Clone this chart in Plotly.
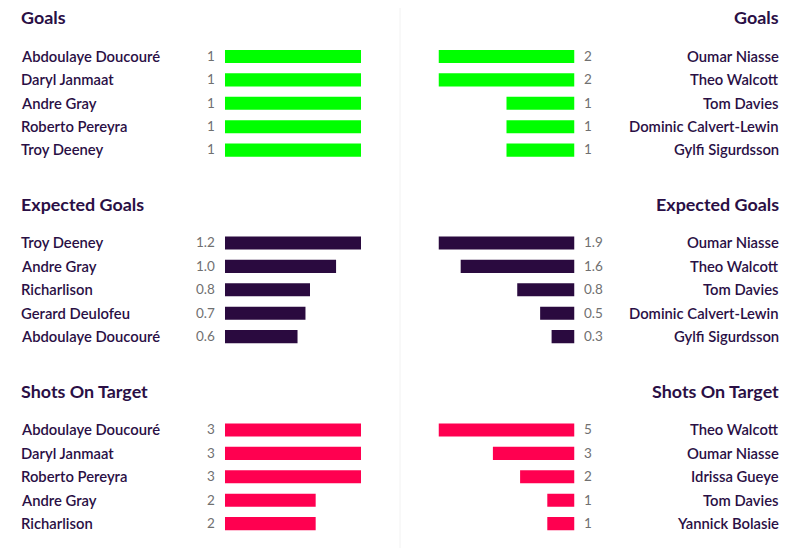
import plotly.graph_objects as go

WIDTH = 800
HEIGHT = 548

stat_titles = ['Goals', 'Expected Goals', 'Shots On Target']
stat_colors = ['#00ff00', '#2a0a3f', '#ff0050']

left_goals_names = ['Abdoulaye Doucouré', 'Daryl Janmaat', 'Andre Gray', 'Roberto Pereyra', 'Troy Deeney']
left_goals_values = [1, 1, 1, 1, 1]
left_goals_labels = ['1', '1', '1', '1', '1']
right_goals_names = ['Oumar Niasse', 'Theo Walcott', 'Tom Davies', 'Dominic Calvert-Lewin', 'Gylfi Sigurdsson']
right_goals_values = [2, 2, 1, 1, 1]
right_goals_labels = ['2', '2', '1', '1', '1']

left_xg_names = ['Troy Deeney', 'Andre Gray', 'Richarlison', 'Gerard Deulofeu', 'Abdoulaye Doucouré']
left_xg_values = [1.2, 0.98, 0.75, 0.71, 0.64]
left_xg_labels = ['1.2', '1.0', '0.8', '0.7', '0.6']
right_xg_names = ['Oumar Niasse', 'Theo Walcott', 'Tom Davies', 'Dominic Calvert-Lewin', 'Gylfi Sigurdsson']
right_xg_values = [1.9, 1.59, 0.8, 0.48, 0.32]
right_xg_labels = ['1.9', '1.6', '0.8', '0.5', '0.3']

left_sot_names = ['Abdoulaye Doucouré', 'Daryl Janmaat', 'Roberto Pereyra', 'Andre Gray', 'Richarlison']
left_sot_values = [3, 3, 3, 2, 2]
left_sot_labels = ['3', '3', '3', '2', '2']
right_sot_names = ['Theo Walcott', 'Oumar Niasse', 'Idrissa Gueye', 'Tom Davies', 'Yannick Bolasie']
right_sot_values = [5, 3, 2, 1, 1]
right_sot_labels = ['5', '3', '2', '1', '1']

FONT = 'Lato'
DARK = '#2a0f45'
GREY = '#707070'

rows = [
    (left_goals_names, left_goals_values, left_goals_labels,
     right_goals_names, right_goals_values, right_goals_labels),
    (left_xg_names, left_xg_values, left_xg_labels,
     right_xg_names, right_xg_values, right_xg_labels),
    (left_sot_names, left_sot_values, left_sot_labels,
     right_sot_names, right_sot_values, right_sot_labels),
]
title_px = [17, 203.5, 390.5]
first_row_px = [56.5, 243, 430]
ROW = 23.4

fig = go.Figure()
annotations = []
layout = {}


def px_x(x):
    return x / WIDTH


def px_y(y):
    return 1 - y / HEIGHT


def add_panel(ax, names, values, labels, color, top, side):
    xname = 'xaxis%d' % ax
    yname = 'yaxis%d' % ax
    xref = 'x%d' % ax
    yref = 'y%d' % ax
    cats = list(range(len(names)))
    fig.add_trace(go.Bar(x=values, y=cats, orientation='h', marker_color=color,
                         marker_line_width=0, width=0.56, xaxis=xref, yaxis=yref,
                         showlegend=False, hoverinfo='x+y'))
    dom = [225, 361] if side == 'left' else [438.5, 574.5]
    x_range = [0, max(values)] if side == 'left' else [max(values), 0]
    layout[xname] = dict(domain=[px_x(dom[0]), px_x(dom[1])], range=x_range, visible=False,
                         anchor=yref, fixedrange=True)
    bottom = top + ROW * 5
    layout[yname] = dict(domain=[px_y(bottom), px_y(top)], range=[4.5, -0.5], visible=False,
                         anchor=xref, fixedrange=True)
    for i, (name, label) in enumerate(zip(names, labels)):
        annotations.append(dict(
            x=px_x(18.5) if side == 'left' else px_x(780.5), xref='paper', y=i, yref=yref,
            text=name, showarrow=False, xanchor=side, yanchor='middle', yshift=0.7,
            font=dict(family=FONT, size=14.8, color=DARK, weight=600),
        ))
        annotations.append(dict(
            x=0, xref=xref, y=i, yref=yref, text=label, showarrow=False,
            xanchor='right' if side == 'left' else 'left', yanchor='middle',
            xshift=-8 if side == 'left' else 7, yshift=0.7,
            font=dict(family=FONT, size=13.5, color=GREY, weight=400),
        ))


ax = 1
for r, row in enumerate(rows):
    top = first_row_px[r] - ROW / 2
    add_panel(ax, row[0], row[1], row[2], stat_colors[r], top, 'left')
    ax += 1
    add_panel(ax, row[3], row[4], row[5], stat_colors[r], top, 'right')
    ax += 1
    for x, anchor in [(18.5, 'left'), (780.5, 'right')]:
        annotations.append(dict(
            x=px_x(x), xref='paper', y=px_y(title_px[r]), yref='paper',
            text=stat_titles[r], showarrow=False, xanchor=anchor, yanchor='middle',
            font=dict(family=FONT, size=17.9, color=DARK, weight=700),
        ))

fig.update_layout(
    width=WIDTH, height=HEIGHT, margin=dict(l=0, r=0, t=0, b=0),
    paper_bgcolor='white', plot_bgcolor='white',
    annotations=annotations,
    shapes=[dict(type='line', xref='paper', yref='paper',
                 x0=px_x(400), x1=px_x(400), y0=0, y1=px_y(8),
                 line=dict(color='#f2f2f2', width=1))],
    **layout,
)

fig.write_html('out.html', config={'displayModeBar': False},
               post_script="document.body.style.margin='0';")
